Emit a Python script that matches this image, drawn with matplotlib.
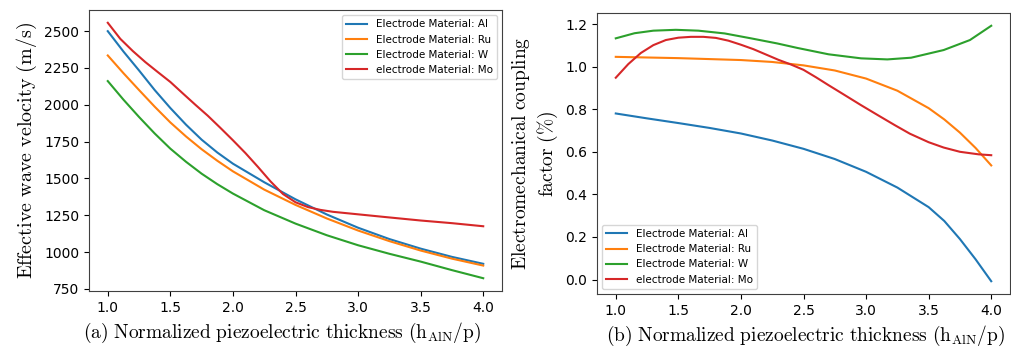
import matplotlib
matplotlib.use("Agg")
import matplotlib.pyplot as plt

plt.rcParams["mathtext.fontset"] = "cm"

# (a) effective wave velocity (m/s)
x_vel = [1.0, 1.125, 1.25, 1.375, 1.5, 1.625, 1.75, 1.875, 2.0,
         2.25, 2.5, 2.75, 3.0, 3.25, 3.5, 3.75, 4.0]
vel_al = [2500, 2362, 2233, 2100, 1978, 1865, 1763, 1676, 1600,
          1474, 1358, 1255, 1165, 1088, 1023, 967, 920]
vel_ru = [2335, 2215, 2100, 1987, 1880, 1785, 1698, 1620, 1548,
          1424, 1320, 1228, 1146, 1074, 1010, 955, 908]
vel_w = [2161, 2035, 1917, 1805, 1702, 1613, 1532, 1461, 1397,
         1284, 1193, 1114, 1046, 988, 935, 877, 822]
x_mo = [1.0, 1.1, 1.2, 1.3, 1.4, 1.5, 1.6, 1.7, 1.8, 1.9, 2.0, 2.1, 2.2, 2.3,
        2.4, 2.5, 2.6, 2.7, 2.8, 3.0, 3.2, 3.5, 3.75, 4.0]
vel_mo = [2557, 2448, 2365, 2290, 2222, 2155, 2077, 2000, 1925, 1843, 1759, 1672,
          1578, 1480, 1394, 1338, 1305, 1286, 1273, 1256, 1239, 1214, 1196, 1175]

# (b) electromechanical coupling factor (%)
x_al = [1.0, 1.25, 1.5, 1.75, 2.0, 2.25, 2.5, 2.75, 3.0, 3.25, 3.5, 3.625, 3.75, 3.875, 4.0]
k_al = [0.78, 0.757, 0.735, 0.712, 0.686, 0.653, 0.614, 0.566, 0.506, 0.432, 0.340,
        0.275, 0.19, 0.095, -0.008]
x_ru = [1.0, 1.5, 2.0, 2.25, 2.5, 2.75, 3.0, 3.25, 3.5, 3.625, 3.75, 3.875, 4.0]
k_ru = [1.046, 1.040, 1.031, 1.022, 1.006, 0.982, 0.944, 0.887, 0.805, 0.752, 0.690,
        0.618, 0.536]
x_w = [1.0, 1.15, 1.3, 1.48, 1.66, 1.87, 2.08, 2.29, 2.45, 2.7, 2.96, 3.17, 3.36,
       3.62, 3.83, 4.0]
k_w = [1.133, 1.157, 1.169, 1.173, 1.169, 1.156, 1.133, 1.109, 1.088, 1.058, 1.039,
       1.034, 1.042, 1.078, 1.125, 1.192]
x_mo_k = [1.0, 1.1, 1.2, 1.3, 1.4, 1.5, 1.6, 1.7, 1.8, 1.9, 2.0, 2.1, 2.2, 2.3, 2.4,
          2.5, 2.6, 2.7, 2.8, 2.96, 3.1, 3.23, 3.35, 3.5, 3.62, 3.75, 3.9, 4.0]
k_mo = [0.948, 1.012, 1.064, 1.101, 1.125, 1.136, 1.140, 1.140, 1.135, 1.122, 1.103,
        1.082, 1.057, 1.032, 1.010, 0.985, 0.950, 0.913, 0.877, 0.819, 0.770, 0.725,
        0.685, 0.645, 0.620, 0.600, 0.588, 0.584]

labels = ["Electrode Material: Al", "Electrode Material: Ru",
          "Electrode Material: W", "electrode Material: Mo"]
colors = ["#1f77b4", "#ff7f0e", "#2ca02c", "#d62728"]

W, H = 1011, 347
fig = plt.figure(figsize=(W / 100, H / 100), dpi=100)
ax1 = fig.add_axes([89 / W, (H - 291) / H, (502 - 89) / W, (291 - 10) / H])
ax2 = fig.add_axes([597 / W, (H - 294) / H, (1010 - 597) / W, (294 - 13) / H])

ax1.plot(x_vel, vel_al, color=colors[0], label=labels[0])
ax1.plot(x_vel, vel_ru, color=colors[1], label=labels[1])
ax1.plot(x_vel, vel_w, color=colors[2], label=labels[2])
ax1.plot(x_mo, vel_mo, color=colors[3], label=labels[3])
ax1.set_yticks([750, 1000, 1250, 1500, 1750, 2000, 2250, 2500])
ax1.set_xticks([1.0, 1.5, 2.0, 2.5, 3.0, 3.5, 4.0])
ax1.set_ylabel(r"$\mathrm{Effective\ wave\ velocity\ (m/s)}$", fontsize=14.5)
ax1.set_xlabel(r"$\mathrm{(a)\ Normalized\ piezoelectric\ thickness\ (h_{AlN}/p)}$",
               fontsize=14)
ax1.xaxis.set_label_coords(0.467, -0.105)
ax1.legend(loc="upper right", fontsize=7.5)

ax2.plot(x_al, k_al, color=colors[0], label=labels[0])
ax2.plot(x_ru, k_ru, color=colors[1], label=labels[1])
ax2.plot(x_w, k_w, color=colors[2], label=labels[2])
ax2.plot(x_mo_k, k_mo, color=colors[3], label=labels[3])
ax2.set_xticks([1.0, 1.5, 2.0, 2.5, 3.0, 3.5, 4.0])
ax2.set_ylabel(r"$\mathrm{Electromechanical\ coupling}$" + "\n" + r"$\mathrm{factor\ (\%)}$",
               fontsize=14, labelpad=4)
ax2.set_xlabel(r"$\mathrm{(b)\ Normalized\ piezoelectric\ thickness\ (h_{AlN}/p)}$",
               fontsize=14)
ax2.xaxis.set_label_coords(0.505, -0.105)
ax2.legend(loc="lower left", fontsize=7.5)

for ax in (ax1, ax2):
    ax.tick_params(labelsize=10)
    for s in ax.spines.values():
        s.set_color("0.25")

fig.savefig("out.png", dpi=100)
